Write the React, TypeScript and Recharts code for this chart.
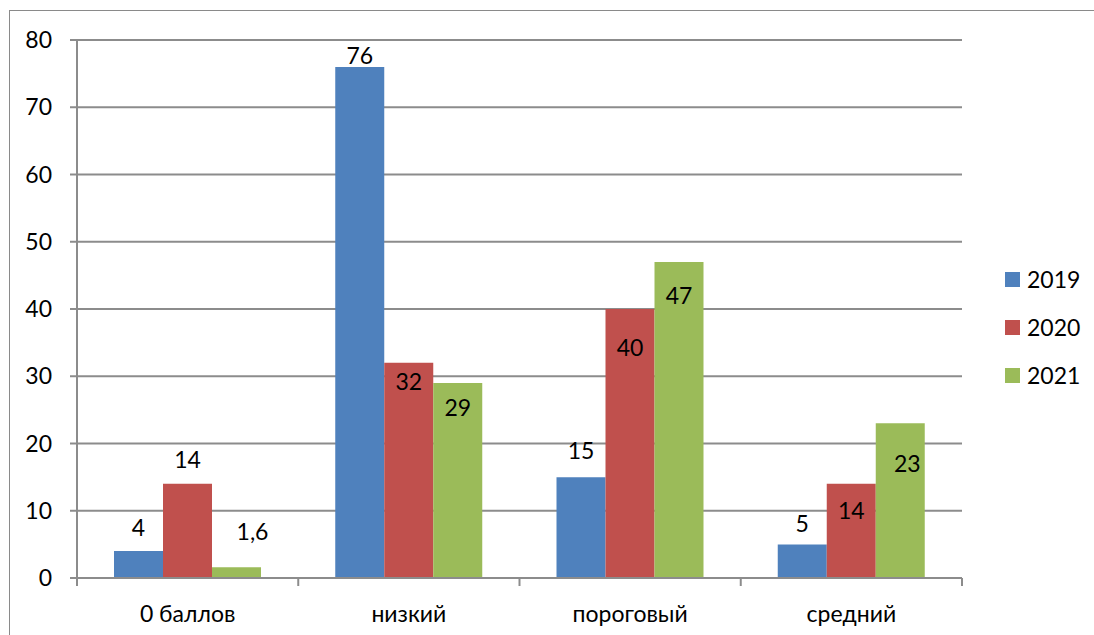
import React from 'react';
import { BarChart, Bar, XAxis, YAxis, CartesianGrid, LabelList } from 'recharts';

const categories = ['0 баллов', 'низкий', 'пороговый', 'средний'];
const values2019 = [4, 76, 15, 5];
const values2020 = [14, 32, 40, 14];
const values2021 = [1.6, 29, 47, 23];
const yTicks = [0, 10, 20, 30, 40, 50, 60, 70, 80];

// label shifts (px from bar top, label center); labels were hand-placed in the source workbook
const labelDy2019 = [-24, -12, -27, -21];
const labelDy2020 = [-25, 18, 38, 26];
const labelDy2021 = [-36, 24, 33, 40];
const labelDx2021 = [16, 0, 0, 7];

const series = [
  { key: 'y2019', name: '2019', color: '#4F81BD', values: values2019, dy: labelDy2019, dx: [0, 0, 0, 0] },
  { key: 'y2020', name: '2020', color: '#C0504D', values: values2020, dy: labelDy2020, dx: [0, 0, 0, 0] },
  { key: 'y2021', name: '2021', color: '#9BBB59', values: values2021, dy: labelDy2021, dx: labelDx2021 },
];

const data = categories.map((name, i) => {
  const row: Record<string, string | number> = { name };
  series.forEach((s) => {
    row[s.key] = s.values[i];
  });
  return row;
});

const W = 1094;
const H = 635;
const PLOT_LEFT = 77;
const PLOT_RIGHT = 962;
const PLOT_TOP = 40;
const PLOT_BOTTOM = 578;
const FONT = 'Lato, "Open Sans", sans-serif';
const FS = 23;
const AXIS = '#8c8c8c';

const fmt = (v: number) => String(v).replace('.', ',');

const makeLabel = (dy: number[], dx: number[]) => (props: any) => {
  const { x, y, width, value, index } = props;
  return (
    <text
      x={Number(x) + Number(width) / 2 + dx[index]}
      y={Number(y) + dy[index]}
      textAnchor="middle"
      dominantBaseline="central"
      fontSize={FS}
      fontFamily={FONT}
      fill="#000"
    >
      {fmt(value)}
    </text>
  );
};

const halfBand = (PLOT_RIGHT - PLOT_LEFT) / categories.length / 2;

const CategoryTick = (props: any) => {
  const { x, y, payload, index } = props;
  const half = payload && payload.offset ? payload.offset : halfBand;
  const cx = Number(x);
  const top = Number(y);
  return (
    <g>
      {index === 0 && (
        <line x1={cx - half} x2={cx - half} y1={PLOT_BOTTOM} y2={PLOT_BOTTOM + 8} stroke={AXIS} strokeWidth={2} />
      )}
      <line x1={cx + half} x2={cx + half} y1={PLOT_BOTTOM} y2={PLOT_BOTTOM + 8} stroke={AXIS} strokeWidth={2} />
      <text x={cx} y={top + 35} textAnchor="middle" dominantBaseline="central" fontSize={FS} fontFamily={FONT} fill="#000">
        {payload.value}
      </text>
    </g>
  );
};

export default function App() {
  return (
    <div style={{ position: 'absolute', left: 0, top: 0, width: W, height: H, overflow: 'hidden', background: '#fff' }}>
      <div
        style={{
          position: 'absolute',
          left: 9,
          top: 10,
          width: 1200,
          height: 800,
          border: '1.5px solid #8a8a8a',
        }}
      />
      <BarChart
        width={W}
        height={H}
        data={data}
        margin={{ top: PLOT_TOP, right: W - PLOT_RIGHT, bottom: 0, left: 0 }}
        barGap={0}
        barCategoryGap={37}
        style={{ position: 'absolute', left: 0, top: 0 }}
      >
        <CartesianGrid vertical={false} stroke={AXIS} strokeWidth={2} />
        <XAxis
          dataKey="name"
          height={H - PLOT_BOTTOM}
          axisLine={{ stroke: AXIS, strokeWidth: 2 }}
          tickLine={false}
          tickSize={0}
          tickMargin={0}
          tick={<CategoryTick />}
          interval={0}
        />
        <YAxis
          width={PLOT_LEFT}
          domain={[0, 80]}
          ticks={yTicks}
          interval={0}
          axisLine={{ stroke: AXIS, strokeWidth: 2 }}
          tickLine={{ stroke: AXIS, strokeWidth: 2 }}
          tickSize={7}
          tickMargin={18}
          tick={{ fontSize: FS, fontFamily: FONT, fill: '#000' }}
        />
        {series.map((s) => (
          <Bar key={s.key} dataKey={s.key} name={s.name} fill={s.color} isAnimationActive={false}>
            <LabelList dataKey={s.key} content={makeLabel(s.dy, s.dx)} />
          </Bar>
        ))}
      </BarChart>
      {series.map((s, i) => (
        <div
          key={s.key}
          style={{
            position: 'absolute',
            left: 1005,
            top: 279 + i * 48 - 14,
            height: 28,
            display: 'flex',
            alignItems: 'center',
            fontFamily: FONT,
            fontSize: FS,
            color: '#000',
          }}
        >
          <span style={{ display: 'inline-block', width: 15, height: 15, background: s.color, marginRight: 7 }} />
          <span>{s.name}</span>
        </div>
      ))}
    </div>
  );
}
